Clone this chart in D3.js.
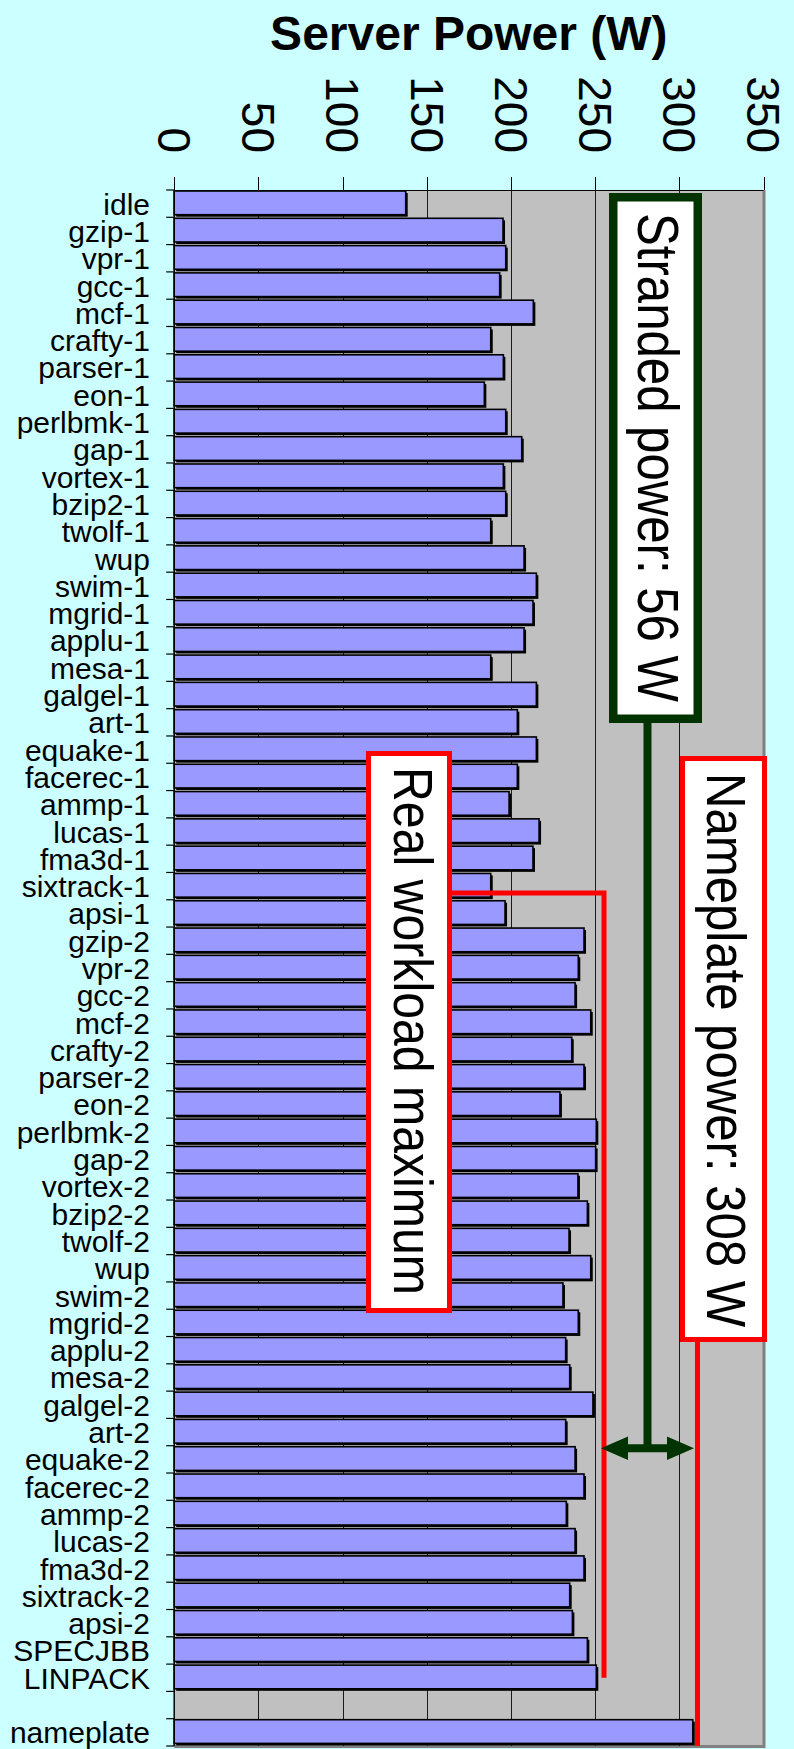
<!DOCTYPE html>
<html>
<head>
<meta charset="utf-8">
<script src="https://cdn.jsdelivr.net/npm/d3@7"></script>
<style>
  html, body { margin: 0; padding: 0; background: #CCFFFF; }
  svg { display: block; }
  text { font-family: "Liberation Sans", Arial, sans-serif; fill: #000; }
</style>
</head>
<body>
<svg id="chart" width="794" height="1749"></svg>
<script>
// Workloads, top to bottom ("" is an empty spacer row before the nameplate bar)
const categories = [
  "idle", "gzip-1", "vpr-1", "gcc-1", "mcf-1", "crafty-1", "parser-1", "eon-1",
  "perlbmk-1", "gap-1", "vortex-1", "bzip2-1", "twolf-1", "wup", "swim-1",
  "mgrid-1", "applu-1", "mesa-1", "galgel-1", "art-1", "equake-1", "facerec-1",
  "ammp-1", "lucas-1", "fma3d-1", "sixtrack-1", "apsi-1",
  "gzip-2", "vpr-2", "gcc-2", "mcf-2", "crafty-2", "parser-2", "eon-2",
  "perlbmk-2", "gap-2", "vortex-2", "bzip2-2", "twolf-2", "wup", "swim-2",
  "mgrid-2", "applu-2", "mesa-2", "galgel-2", "art-2", "equake-2", "facerec-2",
  "ammp-2", "lucas-2", "fma3d-2", "sixtrack-2", "apsi-2", "SPECJBB", "LINPACK",
  "", "nameplate"
];

// Measured server power (W) per workload; null = no bar
const powerW = [
  137.5, 195.3, 196.9, 193.3, 213.3, 188, 195.5, 184.2,
  196.9, 206.4, 195.5, 196.9, 188, 207.8, 215.1,
  213.1, 207.8, 188, 215.1, 203.8, 215.1, 203.8,
  198.9, 216.7, 213.1, 188, 196.5,
  243.4, 240, 238.1, 247.4, 236.1, 243.4, 229.1,
  250.7, 250.3, 239.8, 245.4, 234.5, 247.4, 230.9,
  240, 232.5, 234.9, 248.7, 232.5, 238.1, 243.4,
  232.9, 238.1, 243.4, 234.9, 236.5, 245.4, 250.7,
  null, 308
];

const axisTicks = [0, 50, 100, 150, 200, 250, 300, 350];
const axisTitle = "Server Power (W)";

// Power budget annotations
const nameplatePower = 308;
const strandedPower = 56;
const realWorkloadMax = nameplatePower - strandedPower;

const svg = d3.select("#chart");

const x = d3.scaleLinear().domain([0, 350]).range([174.2, 763.5]);
const y = d3.scaleBand().domain(d3.range(categories.length)).range([190, 1746]).padding(0);
const bw = y.bandwidth();

const plotL = x(0), plotR = x(350), plotT = 190, plotB = 1746;

// Plot area
svg.append("rect")
  .attr("x", plotL).attr("y", plotT)
  .attr("width", plotR - plotL).attr("height", plotB - plotT)
  .attr("fill", "#C0C0C0");
// Right and bottom frame
svg.append("path")
  .attr("d", `M${plotR + 0.5},${plotT} V${plotB + 0.5} H${plotL}`)
  .attr("fill", "none").attr("stroke", "#808080").attr("stroke-width", 3);

// Vertical gridlines
svg.append("g").selectAll("line")
  .data(axisTicks.filter(t => t > 0 && t < 350))
  .join("line")
  .attr("x1", d => Math.round(x(d)) + 0.5).attr("x2", d => Math.round(x(d)) + 0.5)
  .attr("y1", plotT).attr("y2", plotB)
  .attr("stroke", "#1a1a1a").attr("stroke-width", 1);

// Bars with a drop shadow
const barRows = powerW.map((v, i) => ({ i, v })).filter(d => d.v != null);
const bars = svg.append("g");
bars.selectAll("rect.shadow")
  .data(barRows).join("rect").attr("class", "shadow")
  .attr("x", plotL + 2).attr("y", d => y(d.i) + 3)
  .attr("width", d => x(d.v) - plotL).attr("height", bw - 3.6)
  .attr("fill", "#000");
bars.selectAll("rect.bar")
  .data(barRows).join("rect").attr("class", "bar")
  .attr("x", plotL).attr("y", d => y(d.i) + 1)
  .attr("width", d => x(d.v) - plotL).attr("height", bw - 3.6)
  .attr("fill", "#9999FF").attr("stroke", "#000").attr("stroke-width", 1.6);

// Top value axis
const topAxis = svg.append("g");
topAxis.append("line")
  .attr("x1", plotL).attr("x2", plotR).attr("y1", plotT + 0.5).attr("y2", plotT + 0.5)
  .attr("stroke", "#000").attr("stroke-width", 1.2);
topAxis.selectAll("line.tick")
  .data(axisTicks).join("line").attr("class", "tick")
  .attr("x1", d => Math.round(x(d)) + 0.5).attr("x2", d => Math.round(x(d)) + 0.5)
  .attr("y1", plotT - 13).attr("y2", plotT)
  .attr("stroke", "#000").attr("stroke-width", 1);
topAxis.selectAll("text")
  .data(axisTicks).join("text")
  .attr("transform", d => `translate(${x(d)},153) rotate(90)`)
  .attr("text-anchor", "end")
  .attr("dy", "0.35em")
  .style("font-size", "46px")
  .text(d => d);

svg.append("text")
  .attr("x", (plotL + plotR) / 2).attr("y", 50)
  .attr("text-anchor", "middle")
  .style("font-size", "48px").style("font-weight", "bold")
  .text(axisTitle);

// Left category axis
const catAxis = svg.append("g");
catAxis.append("line")
  .attr("x1", plotL).attr("x2", plotL).attr("y1", plotT).attr("y2", plotB)
  .attr("stroke", "#000").attr("stroke-width", 1.5);
catAxis.selectAll("line.tick")
  .data(d3.range(categories.length + 1)).join("line").attr("class", "tick")
  .attr("x1", plotL - 8).attr("x2", plotL)
  .attr("y1", d => plotT + d * bw).attr("y2", d => plotT + d * bw)
  .attr("stroke", "#000").attr("stroke-width", 1.2);
catAxis.selectAll("text")
  .data(categories.map((c, i) => ({ c, i }))).join("text")
  .attr("x", 150).attr("y", d => y(d.i) + bw / 2 + 11)
  .attr("text-anchor", "end")
  .style("font-size", "30px")
  .text(d => d.c);

// ---- Annotations ----
const green = "#003300", red = "#FF0000";
const ann = svg.append("g");

// Real workload maximum connector
const realX = x(realWorkloadMax) + 5.5;
const connY = y(25) + bw * 0.75;
ann.append("path")
  .attr("d", `M451,${connY} H${realX} V${y(54) + bw / 2}`)
  .attr("fill", "none").attr("stroke", red).attr("stroke-width", 5);

// Nameplate line
const nameX = x(nameplatePower) + 4.7;
ann.append("line")
  .attr("x1", nameX).attr("x2", nameX).attr("y1", 1340).attr("y2", plotB)
  .attr("stroke", red).attr("stroke-width", 5);

// Stranded-power double arrow
const aL = x(realWorkloadMax) + 2.5, aR = x(nameplatePower) + 1.2;
const aY = y(46) + 2.5;
const aMid = (aL + aR) / 2;
ann.append("line")
  .attr("x1", aMid).attr("x2", aMid).attr("y1", 720).attr("y2", aY)
  .attr("stroke", green).attr("stroke-width", 8);
const hl = 27, hh = 11.7, sh = 4;
ann.append("path")
  .attr("d", [
    `M${aL},${aY}`, `L${aL + hl},${aY - hh}`, `L${aL + hl},${aY - sh}`,
    `L${aR - hl},${aY - sh}`, `L${aR - hl},${aY - hh}`, `L${aR},${aY}`,
    `L${aR - hl},${aY + hh}`, `L${aR - hl},${aY + sh}`, `L${aL + hl},${aY + sh}`,
    `L${aL + hl},${aY + hh}`, "Z"
  ].join(" "))
  .attr("fill", green);

function labelBox(bx, by, bw2, bh, stroke, sw, text, cx, ty, fs, len) {
  ann.append("rect")
    .attr("x", bx + sw / 2).attr("y", by + sw / 2)
    .attr("width", bw2 - sw).attr("height", bh - sw)
    .attr("fill", "#fff").attr("stroke", stroke).attr("stroke-width", sw);
  ann.append("text")
    .attr("transform", `translate(${cx},${ty}) rotate(90)`)
    .attr("dy", "0.35em")
    .attr("textLength", len).attr("lengthAdjust", "spacingAndGlyphs")
    .style("font-size", fs + "px")
    .text(text);
}

labelBox(609, 193, 93, 530, green, 8.5, `Stranded power: ${strandedPower} W`, 657.5, 213, 57, 489);
labelBox(366, 751, 86, 562, red, 5, "Real workload maximum", 413.3, 767, 56, 528);
labelBox(680, 756, 87, 586, red, 5, `Nameplate power: ${nameplatePower} W`, 726.7, 773, 56, 554);
</script>
</body>
</html>
